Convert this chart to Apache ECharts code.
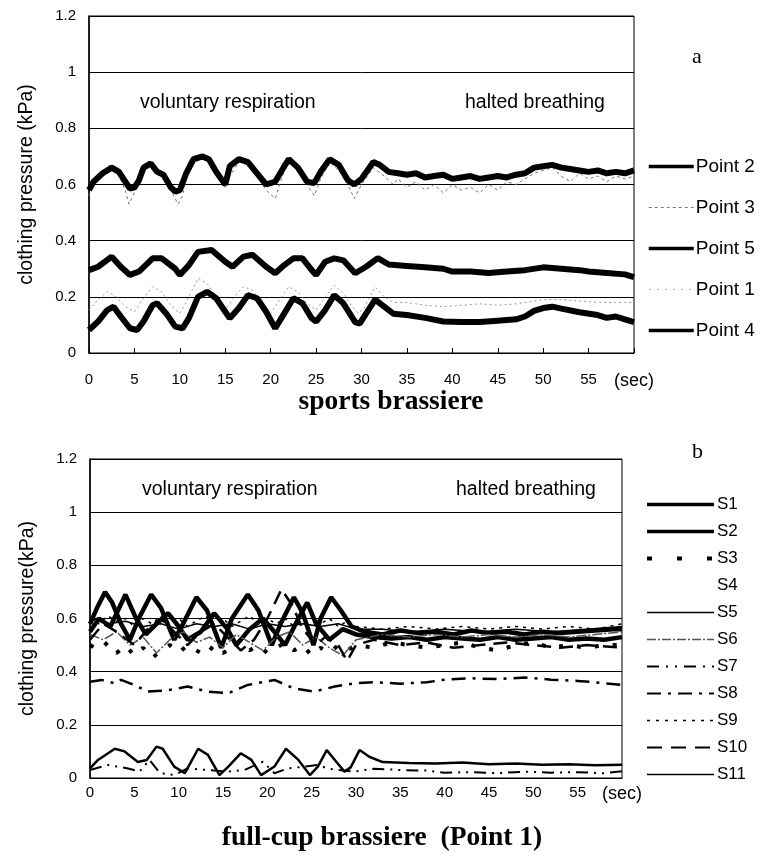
<!DOCTYPE html>
<html>
<head>
<meta charset="utf-8">
<script src="https://cdn.jsdelivr.net/npm/echarts@6/dist/echarts.min.js"></script>
<style>
  html, body { margin: 0; padding: 0; background: #fff; }
  #chart { width: 761px; height: 857px; }
</style>
</head>
<body>
<div id="chart"></div>
<script>
// x axis ticks (sec), the last one is shown as "(sec)"
const xTicks = [0, 5, 10, 15, 20, 25, 30, 35, 40, 45, 50, 55, 60];
const yTicks = [0, 0.2, 0.4, 0.6, 0.8, 1, 1.2];

// panel a - sports brassiere, [time (sec), pressure (kPa)]
const point2 = [[0,0.58],[0.5,0.61],[1.5,0.64],[2.5,0.66],[3.3,0.645],[4,0.61],[4.5,0.585],[5,0.59],[5.5,0.615],[6,0.66],[6.8,0.675],[7.5,0.645],[8.2,0.635],[9,0.59],[9.5,0.575],[10,0.58],[10.7,0.64],[11.5,0.69],[12.5,0.70],[13.2,0.69],[14,0.645],[15,0.60],[15.5,0.665],[16.5,0.69],[17.5,0.68],[18.5,0.64],[19.5,0.60],[20.5,0.61],[21.5,0.665],[22,0.69],[23,0.66],[24,0.61],[24.8,0.605],[25.5,0.645],[26.5,0.69],[27.5,0.67],[28.5,0.615],[29.2,0.60],[30,0.62],[31.3,0.68],[32,0.67],[33,0.645],[34,0.64],[35,0.635],[36,0.64],[37,0.625],[38,0.63],[39,0.635],[40,0.62],[41,0.625],[42,0.63],[43,0.62],[44,0.625],[45,0.63],[46,0.625],[47,0.635],[48,0.64],[49,0.66],[50,0.665],[51,0.67],[52,0.66],[53,0.655],[54,0.65],[55,0.645],[56,0.65],[57,0.64],[58,0.645],[59,0.64],[60,0.65]];
const point3 = [[0,0.56],[0.5,0.6],[1.5,0.63],[2.5,0.65],[3.3,0.63],[4,0.58],[4.4,0.53],[5,0.57],[5.5,0.6],[6,0.64],[6.8,0.67],[7.5,0.64],[8.2,0.62],[9,0.58],[9.8,0.53],[10.3,0.56],[10.7,0.62],[11.5,0.68],[12.5,0.69],[13.2,0.68],[14,0.63],[15,0.59],[15.5,0.63],[16.5,0.68],[17.5,0.67],[18.5,0.63],[19.5,0.58],[20.5,0.55],[21,0.6],[21.5,0.65],[22,0.68],[23,0.65],[24,0.6],[24.8,0.56],[25.5,0.62],[26.5,0.68],[27.5,0.65],[28.5,0.6],[29.2,0.55],[30,0.6],[31.3,0.66],[32.5,0.63],[33.5,0.6],[34,0.62],[35,0.59],[36,0.61],[37,0.58],[38,0.6],[39,0.57],[40,0.6],[41,0.58],[42,0.59],[43,0.57],[44,0.6],[45,0.58],[46,0.61],[47,0.6],[48,0.62],[49,0.64],[50,0.65],[51,0.66],[52,0.63],[53,0.61],[54,0.64],[55,0.62],[56,0.63],[57,0.61],[58,0.63],[59,0.62],[60,0.63]];
const point5 = [[0,0.295],[1,0.307],[2.5,0.343],[3.5,0.307],[4.5,0.278],[5.5,0.29],[7,0.337],[8,0.337],[9.5,0.30],[10,0.278],[11,0.313],[12,0.36],[13.5,0.367],[15,0.325],[15.8,0.307],[17,0.343],[18,0.35],[19.5,0.307],[20.5,0.284],[21.5,0.313],[22.5,0.337],[23.5,0.337],[24.5,0.296],[25,0.278],[26,0.325],[27,0.337],[28,0.33],[29.3,0.284],[30.5,0.307],[31.8,0.338],[33,0.315],[35,0.31],[37,0.305],[39,0.30],[40,0.29],[42,0.29],[44,0.285],[46,0.29],[48,0.295],[50,0.305],[52,0.30],[54,0.295],[55,0.29],[57,0.285],[59,0.28],[60,0.27]];
const point1 = [[0,0.153],[1,0.19],[2,0.218],[3,0.2],[4,0.165],[5,0.147],[6,0.195],[7,0.236],[8,0.218],[9,0.17],[10,0.141],[11,0.2],[12,0.266],[13,0.248],[14,0.2],[15,0.153],[16,0.2],[17,0.236],[18,0.224],[19,0.177],[20,0.141],[21,0.19],[22,0.236],[23,0.218],[24,0.177],[25,0.153],[26,0.2],[27,0.242],[28,0.212],[29,0.165],[29.6,0.142],[30.3,0.16],[31.5,0.235],[32.5,0.2],[33.5,0.18],[35,0.18],[37,0.17],[39,0.165],[41,0.17],[43,0.175],[45,0.17],[47,0.175],[49,0.185],[50,0.19],[52,0.19],[54,0.185],[56,0.18],[58,0.18],[60,0.18]];
const point4 = [[0,0.082],[1,0.112],[2,0.153],[2.7,0.165],[3.5,0.13],[4.5,0.088],[5.3,0.082],[6,0.112],[7,0.17],[7.5,0.177],[8.5,0.141],[9.5,0.094],[10.3,0.088],[11,0.124],[12,0.2],[13,0.218],[14,0.195],[15,0.147],[15.5,0.124],[16.5,0.16],[17.5,0.206],[18.5,0.195],[19.5,0.147],[20.5,0.088],[21.5,0.141],[22.5,0.195],[23.5,0.177],[24.5,0.124],[25,0.112],[26,0.153],[27,0.206],[28,0.177],[29.3,0.11],[29.8,0.105],[30.5,0.14],[31.5,0.19],[32.5,0.165],[33.5,0.14],[35,0.135],[37,0.125],[39,0.112],[41,0.11],[43,0.11],[45,0.115],[47,0.12],[48,0.13],[49,0.15],[50,0.16],[51,0.165],[52,0.158],[54,0.145],[56,0.135],[57,0.125],[58,0.13],[59,0.12],[60,0.11]];

// panel b - full-cup brassiere (Point 1), [time (sec), pressure (kPa)]
const s1 = [[0,0.58],[0.8,0.64],[1.7,0.70],[2.5,0.66],[3.5,0.58],[4.5,0.52],[5.5,0.6],[6.9,0.69],[8,0.64],[9.5,0.52],[10.5,0.58],[12,0.68],[13.2,0.63],[14.8,0.49],[16,0.6],[17.8,0.69],[19,0.63],[20.5,0.5],[21.5,0.58],[23,0.68],[24,0.62],[25.2,0.5],[26,0.6],[27.2,0.68],[28.3,0.63],[29.5,0.57],[31,0.55],[33,0.54],[35,0.555],[37,0.545],[39,0.55],[41,0.54],[43,0.555],[45,0.545],[47,0.55],[49,0.54],[51,0.55],[53,0.545],[55,0.55],[57,0.555],[59,0.56],[60,0.56]];
const s2 = [[0,0.55],[1,0.6],[2.3,0.57],[4,0.69],[5.2,0.6],[6.3,0.54],[7.5,0.58],[8.8,0.62],[10,0.57],[11,0.52],[12.5,0.55],[14,0.62],[15.5,0.56],[16.5,0.5],[18,0.56],[19.5,0.6],[20.8,0.55],[22,0.5],[23.5,0.6],[24.5,0.66],[25.5,0.58],[27,0.52],[28.5,0.56],[30,0.54],[32,0.53],[34,0.525],[36,0.53],[38,0.52],[40,0.53],[42,0.525],[44,0.52],[46,0.53],[48,0.52],[50,0.525],[52,0.53],[54,0.52],[56,0.525],[58,0.52],[60,0.53]];
const s3 = [[0,0.5],[1,0.48],[2,0.51],[3,0.47],[4,0.5],[5,0.46],[6,0.49],[7,0.45],[8,0.48],[9,0.5],[10,0.47],[11,0.5],[12,0.48],[13,0.46],[14,0.5],[15,0.47],[16,0.49],[17,0.52],[18,0.48],[19,0.5],[20,0.47],[21,0.49],[22,0.51],[23,0.48],[24,0.5],[25,0.46],[26,0.49],[27,0.47],[28,0.5],[29,0.48],[30,0.5],[32,0.49],[34,0.51],[36,0.5],[38,0.49],[40,0.5],[42,0.51],[44,0.49],[46,0.48],[48,0.5],[50,0.51],[52,0.49],[54,0.5],[56,0.49],[58,0.5],[60,0.5]];
const s4 = [[0,0.57],[5,0.56],[10,0.57],[15,0.56],[20,0.57],[25,0.56],[30,0.55],[35,0.55],[40,0.54],[45,0.55],[50,0.54],[55,0.55],[60,0.55]];
const s5 = [[0,0.6],[2,0.58],[4,0.59],[6,0.57],[8,0.58],[10,0.56],[12,0.58],[14,0.57],[16,0.58],[18,0.56],[20,0.58],[22,0.57],[24,0.58],[26,0.57],[28,0.58],[30,0.56],[33,0.56],[36,0.55],[40,0.56],[44,0.55],[48,0.56],[52,0.55],[56,0.56],[60,0.57]];
const s6 = [[0,0.54],[1.5,0.52],[3,0.55],[4.5,0.5],[6,0.53],[7.5,0.47],[9,0.52],[10.5,0.55],[12,0.51],[13.5,0.53],[15,0.49],[16.5,0.54],[18,0.51],[19.5,0.48],[21,0.53],[22.5,0.55],[24,0.5],[25.5,0.53],[27,0.49],[28.5,0.46],[30,0.52],[33,0.54],[36,0.53],[39,0.54],[42,0.53],[45,0.54],[48,0.53],[51,0.54],[54,0.53],[57,0.54],[60,0.55]];
const s7 = [[0,0.03],[2,0.049],[4.3,0.036],[5.6,0.024],[6.7,0.068],[7.9,0.018],[9.5,0.011],[11,0.036],[13.3,0.03],[15.6,0.024],[17.4,0.03],[19.5,0.061],[20.8,0.018],[22.3,0.036],[24.2,0.043],[25.7,0.049],[26.8,0.036],[28,0.03],[29.8,0.024],[32,0.035],[35,0.03],[38,0.028],[40,0.02],[43,0.022],[46,0.018],[49,0.024],[52,0.02],[55,0.022],[58,0.018],[60,0.025]];
const s8 = [[0,0.362],[1.3,0.369],[2.8,0.356],[3.5,0.369],[5,0.35],[6.5,0.325],[8.8,0.33],[11,0.344],[13.3,0.325],[15.6,0.319],[17.8,0.35],[19.7,0.362],[20.8,0.369],[23,0.337],[25.3,0.325],[27.6,0.344],[29.8,0.356],[32,0.36],[35,0.355],[38,0.36],[40,0.37],[43,0.375],[46,0.372],[49,0.378],[52,0.37],[55,0.365],[57,0.36],[60,0.35]];
const s9 = [[0,0.6],[1,0.58],[2,0.61],[3,0.59],[4,0.6],[5,0.57],[6,0.6],[7,0.58],[8,0.61],[9,0.58],[10,0.6],[11,0.57],[12,0.59],[13,0.61],[14,0.58],[15,0.6],[16,0.57],[17,0.59],[18,0.61],[19,0.58],[20,0.6],[21,0.58],[22,0.6],[23,0.57],[24,0.59],[25,0.61],[26,0.58],[27,0.6],[28,0.57],[29,0.59],[30,0.57],[33,0.56],[36,0.57],[39,0.56],[42,0.57],[45,0.56],[48,0.57],[51,0.56],[54,0.57],[57,0.56],[60,0.58]];
const s10 = [[0,0.52],[1.5,0.58],[3,0.55],[5,0.5],[6.5,0.56],[8,0.6],[9.5,0.55],[11,0.5],[12.5,0.55],[14,0.58],[15.5,0.53],[17,0.48],[18.5,0.52],[20,0.6],[21.6,0.71],[22.8,0.65],[24,0.56],[25.5,0.5],[26.5,0.53],[28,0.5],[29,0.44],[30,0.5],[32,0.52],[35,0.5],[38,0.51],[41,0.49],[44,0.5],[47,0.51],[50,0.5],[53,0.49],[56,0.5],[60,0.49]];
const s11 = [[0,0.036],[0.9,0.068],[2.8,0.11],[3.9,0.10],[5.4,0.06],[6.4,0.068],[7.5,0.118],[8.2,0.11],[9.5,0.043],[10.7,0.018],[12.2,0.11],[13.3,0.087],[14.6,0.011],[15.6,0.043],[17,0.093],[18.2,0.068],[19.3,0.011],[20.8,0.043],[22.1,0.11],[23.5,0.068],[24.8,0.011],[25.7,0.043],[26.7,0.105],[27.8,0.06],[28.7,0.024],[29.4,0.04],[30.4,0.105],[31.5,0.08],[33,0.06],[36,0.056],[39,0.055],[42,0.058],[45,0.052],[48,0.055],[51,0.05],[54,0.052],[57,0.048],[60,0.05]];

const FONT = 'Liberation Sans, Arial, sans-serif';
const SERIF = 'Liberation Serif, Times New Roman, serif';

function xAxisFor(gridIndex, margin) {
  return {
    type: 'value', gridIndex: gridIndex, min: 0, max: 60, interval: 5,
    axisLine: { lineStyle: { color: '#000', width: 1 } },
    axisTick: { show: gridIndex === 0, inside: true, length: 5, lineStyle: { color: '#000' } },
    splitLine: { show: false },
    axisLabel: {
      color: '#000', fontSize: 15, fontFamily: FONT, margin: margin,
      formatter: v => v === 60 ? '{s|(sec)}' : String(v),
      rich: { s: { fontSize: 18, fontFamily: FONT, color: '#000' } }
    }
  };
}

function yAxisFor(gridIndex, name) {
  return {
    type: 'value', gridIndex: gridIndex, min: 0, max: 1.2, interval: 0.2,
    name: name, nameLocation: 'middle', nameGap: 52,
    nameTextStyle: { color: '#000', fontSize: 19.5, fontFamily: FONT },
    axisLine: { show: true, lineStyle: { color: '#000', width: 1.5 } },
    axisTick: { show: false },
    splitLine: { lineStyle: { color: '#000', width: 1 } },
    axisLabel: { color: '#000', fontSize: 15, fontFamily: FONT, margin: 13 }
  };
}

function line(name, data, gi, color, width, type, z) {
  return {
    name: name, type: 'line', xAxisIndex: gi, yAxisIndex: gi, data: data,
    symbol: 'none', smooth: false, z: z || 2,
    lineStyle: { color: color, width: width, type: type || 'solid' },
    itemStyle: { color: color },
    emphasis: { disabled: true }
  };
}

// legend entry with its own key line
function key(name, width, type, color) {
  return { name: name, lineStyle: { width: width, type: type || 'solid', color: color || '#000' } };
}

const chart = echarts.init(document.getElementById('chart'));
chart.setOption({
  backgroundColor: '#fff',
  animation: false,
  grid: [
    { left: 89, top: 16, width: 545, height: 337, show: true, borderColor: '#000', borderWidth: 1, backgroundColor: 'transparent' },
    { left: 90, top: 459, width: 532, height: 319, show: true, borderColor: '#000', borderWidth: 1, backgroundColor: 'transparent' }
  ],
  xAxis: [xAxisFor(0, 19), xAxisFor(1, 7)],
  yAxis: [yAxisFor(0, 'clothing pressure (kPa)'), yAxisFor(1, 'clothing pressure(kPa)')],
  legend: [
    {
      data: [
        key('Point 2', 3.5),
        key('Point 3', 1, [3, 3], '#777'),
        key('Point 5', 3.5),
        key('Point 1', 1, [2, 6], '#aaa'),
        key('Point 4', 3.5)
      ],
      orient: 'vertical', left: 647, top: 157, padding: 0,
      itemWidth: 45, itemHeight: 14, itemGap: 22,
      itemStyle: { opacity: 0, borderWidth: 0 },
      textStyle: { color: '#000', fontSize: 19, fontFamily: FONT, padding: [0, 0, 0, -3] },
      selectedMode: false
    },
    {
      data: [
        key('S1', 3.5),
        key('S2', 3.5),
        key('S3', 4, [5, 25]),
        key('S4', 0, 'solid', 'rgba(0,0,0,0)'),
        key('S5', 1.3),
        key('S6', 1.3, [9, 2, 2, 2], '#555'),
        key('S7', 1.8, [12, 7, 2, 7, 2, 7]),
        key('S8', 2.2, [14, 7, 3, 7]),
        key('S9', 1.3, [3, 6]),
        key('S10', 2.2, [15, 9]),
        key('S11', 1.5)
      ],
      orient: 'vertical', left: 645, top: 496, padding: 0,
      itemWidth: 67, itemHeight: 12, itemGap: 10,
      itemStyle: { opacity: 0, borderWidth: 0 },
      textStyle: { color: '#000', fontSize: 17, fontFamily: FONT, padding: [0, 0, 0, -2] },
      selectedMode: false
    }
  ],
  series: [
    line('Point 3', point3, 0, '#777', 1, [3, 3]),
    line('Point 1', point1, 0, '#999', 1, [2, 3]),
    line('Point 2', point2, 0, '#000', 6, 'solid', 3),
    line('Point 5', point5, 0, '#000', 6, 'solid', 3),
    line('Point 4', point4, 0, '#000', 6, 'solid', 3),

    line('S1', s1, 1, '#000', 4.5),
    line('S2', s2, 1, '#000', 4.5),
    line('S3', s3, 1, '#000', 4, [4, 14]),
    line('S4', s4, 1, 'rgba(0,0,0,0)', 1),
    line('S5', s5, 1, '#000', 1.5),
    line('S6', s6, 1, '#555', 1.5, [10, 2, 2, 2]),
    line('S7', s7, 1, '#000', 2, [12, 6, 2, 6, 2, 6]),
    line('S8', s8, 1, '#000', 2.5, [14, 7, 3, 7]),
    line('S9', s9, 1, '#000', 1.5, [3, 5]),
    line('S10', s10, 1, '#000', 2.5, [14, 8]),
    line('S11', s11, 1, '#000', 2.5)
  ],
  graphic: [
    { type: 'text', x: 140, y: 103, style: { text: 'voluntary respiration', fontSize: 19.5, fontFamily: FONT, fill: '#000', verticalAlign: 'middle' } },
    { type: 'text', x: 465, y: 103, style: { text: 'halted breathing', fontSize: 19.5, fontFamily: FONT, fill: '#000', verticalAlign: 'middle' } },
    { type: 'text', x: 142, y: 490, style: { text: 'voluntary respiration', fontSize: 19.5, fontFamily: FONT, fill: '#000', verticalAlign: 'middle' } },
    { type: 'text', x: 456, y: 490, style: { text: 'halted breathing', fontSize: 19.5, fontFamily: FONT, fill: '#000', verticalAlign: 'middle' } },
    { type: 'text', left: 692, top: 46, style: { text: 'a', fontSize: 22, fontFamily: SERIF, fill: '#000' } },
    { type: 'text', left: 692, top: 441, style: { text: 'b', fontSize: 22, fontFamily: SERIF, fill: '#000' } },
    { type: 'text', x: 391, y: 402, style: { text: 'sports brassiere', fontSize: 27.5, fontWeight: 'bold', fontFamily: SERIF, fill: '#000', align: 'center', verticalAlign: 'middle' } },
    { type: 'text', x: 382, y: 838, style: { text: 'full-cup brassiere  (Point 1)', fontSize: 27.5, fontWeight: 'bold', fontFamily: SERIF, fill: '#000', align: 'center', verticalAlign: 'middle' } }
  ]
});
</script>
</body>
</html>
